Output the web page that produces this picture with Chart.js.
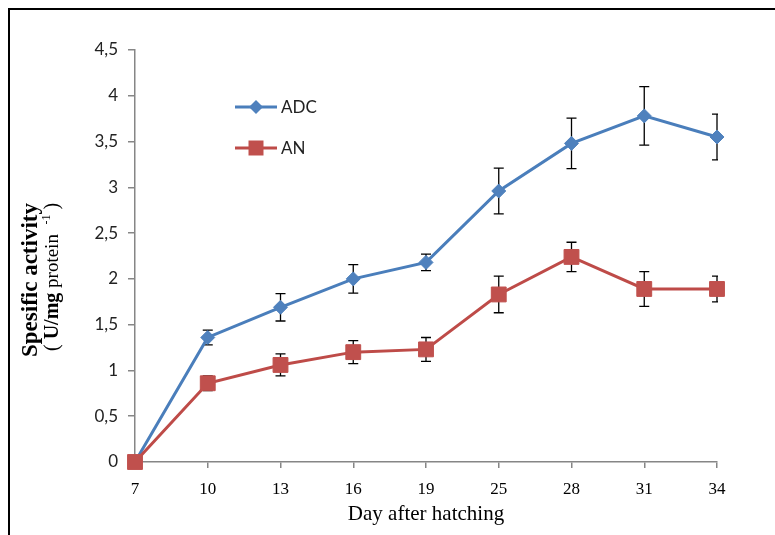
<!DOCTYPE html>
<html>
<head>
<meta charset="utf-8">
<script src="https://cdn.jsdelivr.net/npm/chart.js@4/dist/chart.umd.min.js"></script>
<style>
  html,body{margin:0;padding:0;background:#fff;}
  canvas{display:block;}
</style>
</head>
<body>
<canvas id="chart" width="775" height="535"></canvas>
<script>
const days=['7','10','13','16','19','25','28','31','34'];
const adc=[0,1.36,1.69,2.00,2.18,2.96,3.48,3.78,3.55];
const adcErr=[0,0.08,0.15,0.155,0.09,0.25,0.275,0.32,0.25];
const an=[0,0.86,1.06,1.20,1.23,1.83,2.24,1.89,1.89];
const anErr=[0,0.08,0.12,0.125,0.13,0.2,0.16,0.19,0.14];

const blueLine='#4A7EBB',blueMark='#4F81BD';
const redLine='#BE4B48',redMark='#C0504D';
const axisGray='#868686';

// error bars, drawn under the markers
const errorBars={
  id:'errorBars',
  beforeDatasetsDraw(chart){
    const {ctx,chartArea,scales:{x,y}}=chart;
    ctx.save();
    ctx.beginPath();
    ctx.rect(chartArea.left-20,0,chartArea.right-chartArea.left+21,chart.height);
    ctx.clip();
    ctx.strokeStyle='#000';
    ctx.lineWidth=1.3;
    chart.data.datasets.forEach(ds=>{
      ds.data.forEach((v,i)=>{
        const e=ds.err[i];
        if(!e) return;
        const px=x.getPixelForValue(i);
        const top=y.getPixelForValue(v+e),bot=y.getPixelForValue(v-e);
        ctx.beginPath();
        ctx.moveTo(px,top);ctx.lineTo(px,bot);
        ctx.moveTo(px-5,top);ctx.lineTo(px+5,top);
        ctx.moveTo(px-5,bot);ctx.lineTo(px+5,bot);
        ctx.stroke();
      });
    });
    ctx.restore();
  }
};

function drawRuns(ctx,runs,x,y){
  ctx.save();
  ctx.translate(x,y);
  ctx.rotate(-Math.PI/2);
  ctx.textBaseline='alphabetic';
  ctx.textAlign='left';
  let pos=0;
  runs.forEach(r=>{
    ctx.font=r.font;
    ctx.fillText(r.text,pos,r.dy||0);
    pos+=ctx.measureText(r.text).width;
  });
  ctx.restore();
}

const decorations={
  id:'decorations',
  afterDraw(chart){
    const ctx=chart.ctx;
    const area=chart.chartArea;
    ctx.save();
    // frame (left and top)
    ctx.strokeStyle='#000';
    ctx.lineWidth=2;
    ctx.beginPath();
    ctx.moveTo(9,535);ctx.lineTo(9,9);ctx.lineTo(775,9);
    ctx.stroke();

    // legend
    const items=[
      {label:'ADC',y:107,line:blueLine,mark:blueMark,style:'diamond'},
      {label:'AN',y:148,line:redLine,mark:redMark,style:'square'}
    ];
    items.forEach(it=>{
      ctx.strokeStyle=it.line;
      ctx.lineWidth=3;
      ctx.beginPath();ctx.moveTo(235,it.y);ctx.lineTo(277,it.y);ctx.stroke();
      ctx.fillStyle=it.mark;
      ctx.beginPath();
      if(it.style==='diamond'){
        ctx.moveTo(256-7,it.y);ctx.lineTo(256,it.y-7);ctx.lineTo(256+7,it.y);ctx.lineTo(256,it.y+7);
      }else{
        ctx.rect(256-7.5,it.y-7.5,15,15);
      }
      ctx.closePath();ctx.fill();
      ctx.fillStyle='#222';
      ctx.font='17px Lato';
      ctx.textBaseline='middle';
      ctx.textAlign='left';
      ctx.fillText(it.label,281,it.y+1);
    });

    // x axis title
    ctx.fillStyle='#000';
    ctx.font='21px "Liberation Serif"';
    ctx.textAlign='center';
    ctx.textBaseline='middle';
    ctx.fillText('Day after hatching',(area.left+area.right)/2,514);

    // y axis title
    drawRuns(ctx,[{text:'Spesific activity',font:'bold 23px "Liberation Serif"'}],37,357);
    drawRuns(ctx,[
      {text:'( ',font:'20px "Liberation Serif"'},
      {text:'U/mg',font:'bold 20px "Liberation Serif"'},
      {text:' protein  ',font:'19px "Liberation Serif"'},
      {text:'-1',font:'12px "Liberation Serif"',dy:-8},
      {text:' )',font:'20px "Liberation Serif"'}
    ],58,351);
    ctx.restore();
  }
};

new Chart(document.getElementById('chart'),{
  type:'line',
  data:{
    labels:days,
    datasets:[
      {label:'ADC',data:adc,err:adcErr,borderColor:blueLine,backgroundColor:blueMark,
       pointBackgroundColor:blueMark,pointBorderColor:blueMark,pointBorderWidth:1,
       borderWidth:3,pointStyle:'rectRot',pointRadius:7,order:1,clip:false,tension:0},
      {label:'AN',data:an,err:anErr,borderColor:redLine,backgroundColor:redMark,
       pointBackgroundColor:redMark,pointBorderColor:redMark,pointBorderWidth:1,
       borderWidth:3,pointStyle:'rect',pointRadius:10.5,order:0,clip:false,tension:0}
    ]
  },
  options:{
    responsive:false,
    animation:false,
    layout:{padding:{top:50,right:58,left:0,bottom:0}},
    plugins:{legend:{display:false},tooltip:{enabled:false}},
    scales:{
      x:{
        offset:false,
        grid:{drawOnChartArea:false,drawTicks:true,tickLength:6,color:axisGray,lineWidth:1.5},
        border:{color:axisGray,width:1.5},
        ticks:{font:{family:'Liberation Serif',size:17},color:'#000',padding:11,maxRotation:0,autoSkip:false},
        afterFit(s){s.height=73;}
      },
      y:{
        min:0,max:4.5,
        grid:{drawOnChartArea:false,drawTicks:true,tickLength:7,color:axisGray,lineWidth:1.5},
        border:{color:axisGray,width:1.5},
        ticks:{stepSize:0.5,font:{family:'Lato',size:17},color:'#222',padding:10,
          callback:v=>String(v).replace('.',',')},
        afterFit(s){s.width=135;}
      }
    }
  },
  plugins:[errorBars,decorations]
});
</script>
</body>
</html>
